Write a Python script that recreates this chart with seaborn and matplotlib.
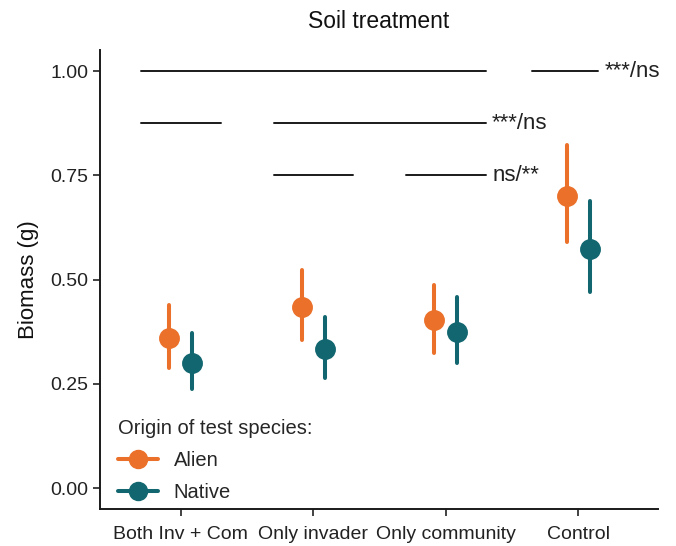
import numpy as np
import pandas as pd
import matplotlib.pyplot as plt
import seaborn as sns
from matplotlib.lines import Line2D

# values: point estimate and interval bounds
treatments = ["Both Inv + Com", "Only invader", "Only community", "Control"]
origins = ["Alien", "Native"]
alien_mean = [0.359, 0.435, 0.402, 0.701]
alien_low = [0.287, 0.354, 0.325, 0.589]
alien_high = [0.438, 0.524, 0.486, 0.823]
native_mean = [0.301, 0.333, 0.375, 0.574]
native_low = [0.237, 0.263, 0.301, 0.469]
native_high = [0.373, 0.409, 0.457, 0.689]

# significance bars (y, start, end) and their labels
sig_y = [1.0, 1.0, 0.875, 0.875, 0.75, 0.75]
sig_x0 = [-0.3, 2.65, -0.3, 0.7, 0.7, 1.7]
sig_x1 = [2.3, 3.15, 0.3, 2.3, 1.3, 2.3]
sig_labels = ["***/ns", "***/ns", "ns/**"]
sig_label_x = [3.2, 2.35, 2.35]
sig_label_y = [1.0, 0.875, 0.75]

colors = {"Alien": "#EB7029", "Native": "#11666F"}

rows = []
for i, t in enumerate(treatments):
    for o, lo, m, hi in [("Alien", alien_low, alien_mean, alien_high),
                         ("Native", native_low, native_mean, native_high)]:
        for v in (lo[i], m[i], hi[i]):
            rows.append({"treatment": t, "origin": o, "biomass": v})
df = pd.DataFrame(rows)

sns.set_theme(style="ticks")
plt.rcParams["font.family"] = ["Liberation Sans", "DejaVu Sans"]

fig, ax = plt.subplots(figsize=(6.76, 5.46), dpi=100)
fig.subplots_adjust(left=0.148, right=0.973, top=0.908, bottom=0.068)

sns.pointplot(data=df, x="treatment", y="biomass", hue="origin",
              order=treatments, hue_order=origins, palette=colors,
              estimator=np.median, errorbar=lambda v: (min(v), max(v)),
              dodge=0.175, linestyle="none", markers="o", markersize=13,
              err_kws={"linewidth": 2.9}, ax=ax)

for y, x0, x1 in zip(sig_y, sig_x0, sig_x1):
    ax.plot([x0, x1], [y, y], color="#1a1a1a", lw=1.4)
for lab, x, y in zip(sig_labels, sig_label_x, sig_label_y):
    ax.text(x, y, lab, ha="left", va="center", fontsize=16, color="#222222")

ax.set_xlim(-0.61, 3.6)
ax.set_ylim(-0.05, 1.05)
ax.set_yticks([0, 0.25, 0.5, 0.75, 1.0])
ax.set_yticklabels(["0.00", "0.25", "0.50", "0.75", "1.00"])
ax.set_xlabel("")
ax.set_ylabel("Biomass (g)", fontsize=16, color="#111111", labelpad=8)
ax.set_title("Soil treatment", fontsize=16.5, pad=16, color="#111111")
ax.tick_params(labelsize=14, colors="#222222", width=1.2, length=5)
ax.tick_params(axis="x", pad=7.5)
for s in ["left", "bottom"]:
    ax.spines[s].set_linewidth(1.4)
    ax.spines[s].set_color("#1a1a1a")
sns.despine(ax=ax)

handles = [Line2D([], [], color=colors[o], lw=2.9, marker="o", markersize=13)
           for o in origins]
leg = ax.legend(handles, origins, title="Origin of test species:",
                loc="lower left", bbox_to_anchor=(0.0, -0.025), frameon=False,
                fontsize=14.5, title_fontsize=14.5, alignment="left",
                handlelength=2.0, handletextpad=0.75, labelspacing=0.65)

fig.savefig("out.png", dpi=100)
